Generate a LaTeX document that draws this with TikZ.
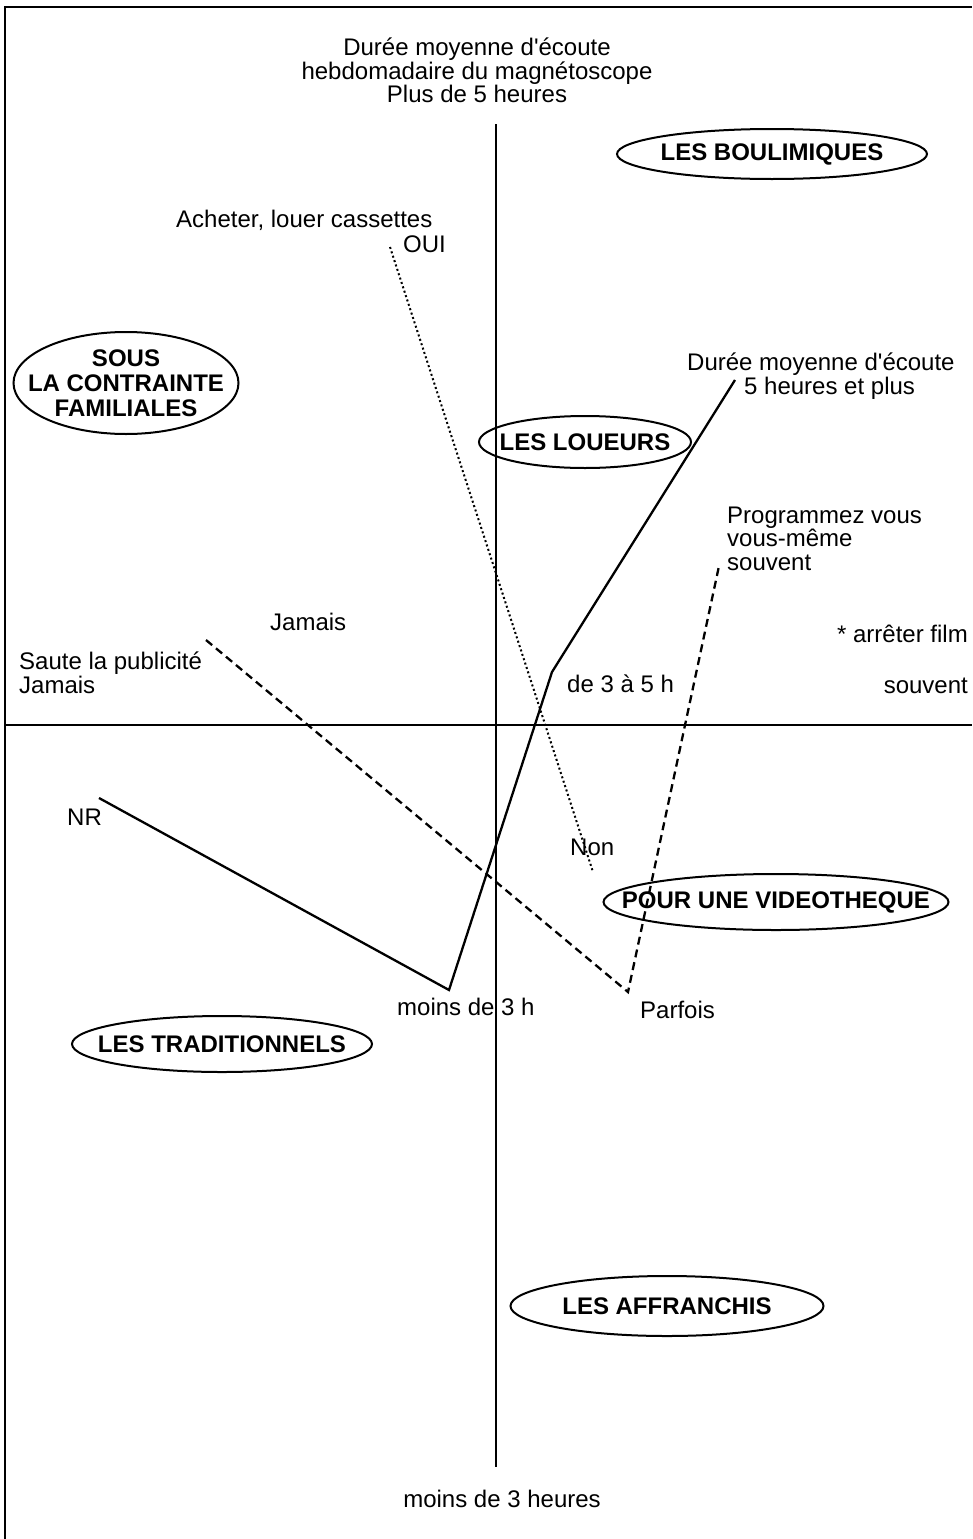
\documentclass[tikz,border=0pt]{standalone}
\usepackage{fontspec}
\setmainfont{Liberation Sans}
\usetikzlibrary{shapes.geometric}
\begin{document}
\begin{tikzpicture}[x=1pt,y=-1pt,
  lbl/.style={font=\fontsize{24}{23.5}\selectfont, inner sep=0pt},
  ell/.style={draw, ellipse, line width=2pt, inner sep=0pt},
  grplbl/.style={font=\bfseries\fontsize{24}{25}\selectfont, inner sep=0pt, align=center},
  axisline/.style={line width=1.8pt},
  frameline/.style={line width=1.3pt},
  solidl/.style={line width=2.3pt, line join=miter},
  dashl/.style={line width=2.3pt, dash pattern=on 8pt off 5pt},
  dotl/.style={line width=2pt, dash pattern=on 2pt off 2.6pt}]

\useasboundingbox (0,0) rectangle (972,1539);

% frame
\coordinate (f1) at (5,1539);
\coordinate (f2) at (5,7);
\coordinate (f3) at (972,7);
\draw[frameline] (f1) -- (f2) -- (f3);

% axes
\coordinate (ytop) at (496,124);
\coordinate (ybot) at (496,1467);
\coordinate (xl) at (5,725);
\coordinate (xr) at (972,725);
\draw[axisline] (ytop) -- (ybot);
\draw[axisline] (xl) -- (xr);

% axis labels (base anchor of a multi-line node = last line)
\node[lbl, align=center, anchor=base] (title) at (477,102.5)
  {Durée moyenne d\textquotesingle écoute\\hebdomadaire du magnétoscope\\Plus de 5 heures};
\node[lbl, anchor=base] (bottom) at (502,1507) {moins de 3 heures};

% text labels
\node[lbl, anchor=base west] (acheter) at (176,227) {Acheter, louer cassettes};
\node[lbl, anchor=base west] (oui) at (403,252) {OUI};
\node[lbl, anchor=base west] (duree) at (687,370) {Durée moyenne d\textquotesingle écoute};
\node[lbl, anchor=base west] (cinqh) at (744,394) {5 heures et plus};
\node[lbl, anchor=base west, align=left] (prog) at (727,570) {Programmez vous\\vous-même\\souvent};
\node[lbl, anchor=base west] (jamais) at (270,630) {Jamais};
\node[lbl, anchor=base west, align=left] (saute) at (19,693) {Saute la publicité\\Jamais};
\node[lbl, anchor=base west] (de3a5) at (567,692) {de 3 à 5 h};
\node[lbl, anchor=base east] (arreter) at (968,642) {* arrêter film};
\node[lbl, anchor=base east] (souvent) at (968,693) {souvent};
\node[lbl, anchor=base west] (nr) at (67,825) {NR};
\node[lbl, anchor=base west] (non) at (570,855) {Non};
\node[lbl, anchor=base west] (moins3) at (397,1015) {moins de 3 h};
\node[lbl, anchor=base west] (parfois) at (640,1018) {Parfois};

% connector points
\coordinate (ouiPt) at (390,247);
\coordinate (nonPt) at (593,872);
\coordinate (d5) at (735,380);
\coordinate (d35) at (552,672);
\coordinate (d3) at (449,990);
\coordinate (nrPt) at (99,798);
\coordinate (pj) at (206,640);
\coordinate (pp) at (628,992);
\coordinate (ps) at (719,566);

\draw[dotl] (ouiPt) -- (nonPt);
\draw[solidl] (d5) -- (d35) -- (d3) -- (nrPt);
\draw[dashl] (pj) -- (pp) -- (ps);

% group ellipses
\node[ell, minimum width=310pt, minimum height=50pt] (boul) at (772,154) {};
\node[grplbl] at (boul) {LES BOULIMIQUES};
\node[ell, minimum width=225pt, minimum height=102pt] (sous) at (126,383) {};
\node[grplbl] at (sous) {SOUS\\LA CONTRAINTE\\FAMILIALES};
\node[ell, minimum width=212pt, minimum height=52pt] (loueurs) at (585,442) {};
\node[grplbl] at (loueurs) {LES LOUEURS};
\node[ell, minimum width=345pt, minimum height=56pt] (video) at (776,902) {};
\node[grplbl] at (video) {POUR UNE VIDEOTHEQUE};
\node[ell, minimum width=300pt, minimum height=56pt] (trad) at (222,1044) {};
\node[grplbl] at (trad) {LES TRADITIONNELS};
\node[ell, minimum width=313pt, minimum height=60pt] (affr) at (667,1306) {};
\node[grplbl] at (affr) {LES AFFRANCHIS};
\end{tikzpicture}
\end{document}
